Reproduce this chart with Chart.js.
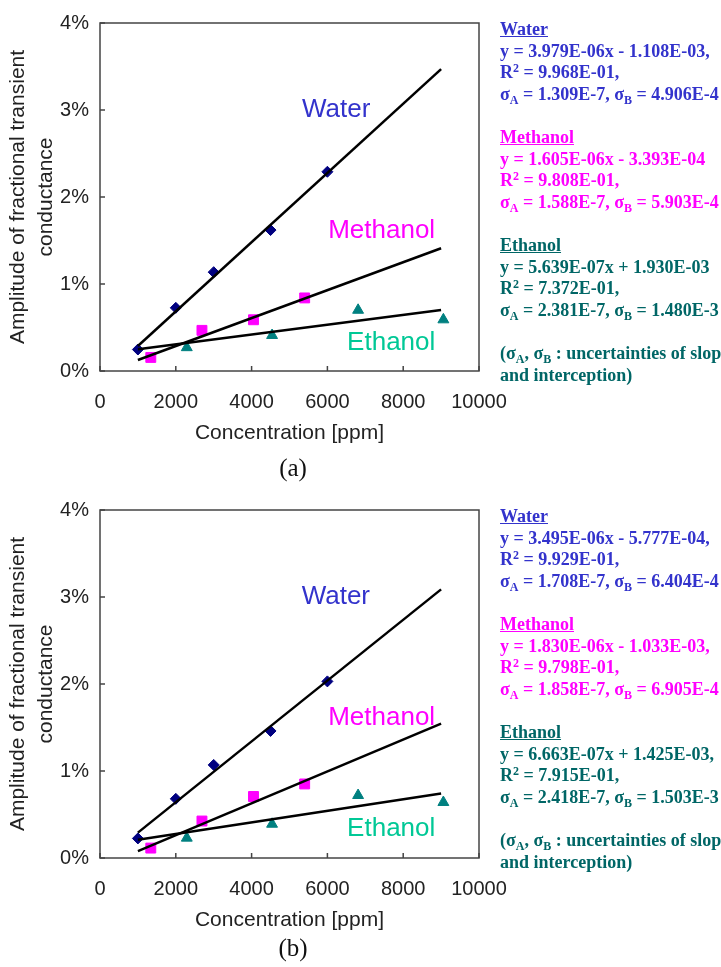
<!DOCTYPE html>
<html>
<head>
<meta charset="utf-8">
<title>Transient conductance vs concentration</title>
<script src="https://cdn.jsdelivr.net/npm/chart.js@4/dist/chart.umd.min.js"></script>
<style>
  body { margin: 0; width: 721px; height: 967px; overflow: hidden; background: #fff; position: relative; }
  canvas.plot { position: absolute; left: 0; }
  .cap { position: absolute; left: 253px; width: 80px; text-align: center; font: 25px "Liberation Serif", "Times New Roman", serif; line-height: 28px; color: #111; }
  .fit { position: absolute; left: 500px; width: 221px; overflow: hidden; white-space: nowrap;
         font: bold 18px "Liberation Serif", "Times New Roman", serif; line-height: 21.6px; }
  .fit sub, .fit sup { font-size: 12px; line-height: 0; }
  .fit sub { vertical-align: -4px; }
  .fit sup { vertical-align: 6px; }
  .fit .gap { height: 21.6px; }
  .water { color: #3333cc; }
  .meth { color: #ff00ff; }
  .eth { color: #006666; }
</style>
</head>
<body>

<canvas id="chartA" class="plot" width="540" height="480" style="top:0"></canvas>
<canvas id="chartB" class="plot" width="540" height="480" style="top:487px"></canvas>

<div class="cap" style="top:454px">(a)</div>
<div class="cap" style="top:934px">(b)</div>

<div class="fit" style="top:19px">
  <div class="water"><u>Water</u><br>y = 3.979E-06x - 1.108E-03,<br>R<sup>2</sup> = 9.968E-01,<br>σ<sub>A</sub> = 1.309E-7, σ<sub>B</sub> = 4.906E-4</div>
  <div class="gap"></div>
  <div class="meth"><u>Methanol</u><br>y = 1.605E-06x - 3.393E-04<br>R<sup>2</sup> = 9.808E-01,<br>σ<sub>A</sub> = 1.588E-7, σ<sub>B</sub> = 5.903E-4</div>
  <div class="gap"></div>
  <div class="eth"><u>Ethanol</u><br>y = 5.639E-07x + 1.930E-03<br>R<sup>2</sup> = 7.372E-01,<br>σ<sub>A</sub> = 2.381E-7, σ<sub>B</sub> = 1.480E-3</div>
  <div class="gap"></div>
  <div class="eth">(σ<sub>A</sub>, σ<sub>B</sub> : uncertainties of slope<br>and interception)</div>
</div>

<div class="fit" style="top:506px">
  <div class="water"><u>Water</u><br>y = 3.495E-06x - 5.777E-04,<br>R<sup>2</sup> = 9.929E-01,<br>σ<sub>A</sub> = 1.708E-7, σ<sub>B</sub> = 6.404E-4</div>
  <div class="gap"></div>
  <div class="meth"><u>Methanol</u><br>y = 1.830E-06x - 1.033E-03,<br>R<sup>2</sup> = 9.798E-01,<br>σ<sub>A</sub> = 1.858E-7, σ<sub>B</sub> = 6.905E-4</div>
  <div class="gap"></div>
  <div class="eth"><u>Ethanol</u><br>y = 6.663E-07x + 1.425E-03,<br>R<sup>2</sup> = 7.915E-01,<br>σ<sub>A</sub> = 2.418E-7, σ<sub>B</sub> = 1.503E-3</div>
  <div class="gap"></div>
  <div class="eth">(σ<sub>A</sub>, σ<sub>B</sub> : uncertainties of slope<br>and interception)</div>
</div>

<script>
/* ---------- measured data ---------- */

// vapour concentration [ppm]
var concWater = [1000, 2000, 3000, 4500, 6000];
var concMethanol = [1340, 2690, 4050, 5400];
var concEthanol = [2290, 4540, 6810, 9060];

// amplitude of fractional transient conductance, run (a)
var ampWaterA = [0.00247, 0.00726, 0.01136, 0.0162, 0.0229];
var ampMethanolA = [0.00156, 0.00467, 0.00589, 0.0084];
var ampEthanolA = [0.0027, 0.0041, 0.0070, 0.0059];

// run (b)
var ampWaterB = [0.00225, 0.0068, 0.0107, 0.0146, 0.0203];
var ampMethanolB = [0.00114, 0.00425, 0.00707, 0.00851];
var ampEthanolB = [0.0023, 0.0039, 0.0072, 0.0064];

// linear fits y = A x + B  (water, methanol, ethanol)
var slopeA = [3.979e-6, 1.605e-6, 5.639e-7];
var interceptA = [-1.108e-3, -3.393e-4, 1.930e-3];
var slopeB = [3.495e-6, 1.830e-6, 6.663e-7];
var interceptB = [-5.777e-4, -1.033e-3, 1.425e-3];
var fitRange = [1000, 9000];

// axes
var xTicks = [0, 2000, 4000, 6000, 8000, 10000];
var yTicks = [0, 0.01, 0.02, 0.03, 0.04];

/* ---------- plugins ---------- */

// plot box with short inward tick marks
var frame = {
  id: 'frame',
  beforeDatasetsDraw: function(chart) {
    var ctx = chart.ctx, a = chart.chartArea;
    var sx = chart.scales.x, sy = chart.scales.y;
    ctx.save();
    ctx.strokeStyle = '#444';
    ctx.lineWidth = 1.5;
    ctx.strokeRect(a.left, a.top, a.right - a.left, a.bottom - a.top);
    ctx.beginPath();
    sx.ticks.forEach(function(t) {
      var px = sx.getPixelForValue(t.value);
      ctx.moveTo(px, a.bottom);
      ctx.lineTo(px, a.bottom - 5);
    });
    sy.ticks.forEach(function(t) {
      var py = sy.getPixelForValue(t.value);
      ctx.moveTo(a.left, py);
      ctx.lineTo(a.left + 5, py);
    });
    ctx.stroke();
    ctx.restore();
  }
};

// series names written inside the plot
var seriesNames = {
  id: 'seriesNames',
  afterDatasetsDraw: function(chart, args, opts) {
    var ctx = chart.ctx, sx = chart.scales.x, sy = chart.scales.y;
    ctx.save();
    ctx.font = '26px "Liberation Sans", Arial, sans-serif';
    ctx.textBaseline = 'middle';
    ctx.textAlign = 'left';
    (opts.items || []).forEach(function(it) {
      ctx.fillStyle = it.color;
      ctx.fillText(it.text, sx.getPixelForValue(it.x), sy.getPixelForValue(it.y));
    });
    ctx.restore();
  }
};

/* ---------- chart builder ---------- */

function points(xs, ys) {
  return xs.map(function(x, i) { return { x: x, y: ys[i] }; });
}

function fitLine(a, b) {
  return fitRange.map(function(x) { return { x: x, y: a * x + b }; });
}

function lineSet(data) {
  return {
    data: data, showLine: true, borderColor: '#000', borderWidth: 2.5,
    pointRadius: 0, fill: false
  };
}

function makeChart(id, ampW, ampM, ampE, slope, icpt, names) {
  var tickFont = { family: '"Liberation Sans", Arial, sans-serif', size: 20 };
  new Chart(document.getElementById(id).getContext('2d'), {
    type: 'scatter',
    data: {
      datasets: [
        lineSet(fitLine(slope[0], icpt[0])),
        lineSet(fitLine(slope[1], icpt[1])),
        lineSet(fitLine(slope[2], icpt[2])),
        { label: 'Water', data: points(concWater, ampW), pointStyle: 'rectRot', pointRadius: 5.5,
          backgroundColor: '#000080', borderColor: '#000080', borderWidth: 1 },
        { label: 'Methanol', data: points(concMethanol, ampM), pointStyle: 'rect', pointRadius: 7,
          backgroundColor: '#ff00ff', borderColor: '#ff00ff', borderWidth: 1 },
        { label: 'Ethanol', data: points(concEthanol, ampE), pointStyle: 'triangle', pointRadius: 6.3,
          backgroundColor: '#008080', borderColor: '#008080', borderWidth: 1 }
      ]
    },
    options: {
      responsive: false,
      animation: false,
      events: [],
      layout: { padding: { top: 20, right: 61, left: 0, bottom: 0 } },
      plugins: {
        legend: { display: false },
        tooltip: { enabled: false },
        seriesNames: { items: names }
      },
      scales: {
        x: {
          type: 'linear', min: 0, max: 10000,
          afterBuildTicks: function(s) { s.ticks = xTicks.map(function(v) { return { value: v }; }); },
          afterFit: function(s) { s.height = 109; },
          grid: { display: false, drawTicks: false },
          border: { display: false },
          ticks: { padding: 19, color: '#222', font: tickFont, maxRotation: 0,
                   callback: function(v) { return String(v); } },
          title: { display: true, text: 'Concentration [ppm]', color: '#222',
                   font: { family: '"Liberation Sans", Arial, sans-serif', size: 21 },
                   padding: { top: 0, bottom: 34 } }
        },
        y: {
          type: 'linear', min: 0, max: 0.04,
          afterBuildTicks: function(s) { s.ticks = yTicks.map(function(v) { return { value: v }; }); },
          afterFit: function(s) { s.width = 100; },
          grid: { display: false, drawTicks: false },
          border: { display: false },
          ticks: { padding: 11, color: '#222', font: tickFont,
                   callback: function(v) { return Math.round(v * 100) + '%'; } },
          title: { display: true, text: ['Amplitude of fractional transient', 'conductance'], color: '#222',
                   font: { family: '"Liberation Sans", Arial, sans-serif', size: 21, lineHeight: 1.3 },
                   padding: { top: 5, bottom: 0 } }
        }
      }
    },
    plugins: [frame, seriesNames]
  });
}

makeChart('chartA', ampWaterA, ampMethanolA, ampEthanolA, slopeA, interceptA, [
  { text: 'Water', x: 5330, y: 0.030, color: '#3333cc' },
  { text: 'Methanol', x: 6020, y: 0.0161, color: '#ff00ff' },
  { text: 'Ethanol', x: 6520, y: 0.0032, color: '#00c896' }
]);

makeChart('chartB', ampWaterB, ampMethanolB, ampEthanolB, slopeB, interceptB, [
  { text: 'Water', x: 5320, y: 0.030, color: '#3333cc' },
  { text: 'Methanol', x: 6020, y: 0.0161, color: '#ff00ff' },
  { text: 'Ethanol', x: 6520, y: 0.0034, color: '#00c896' }
]);
</script>
</body>
</html>
